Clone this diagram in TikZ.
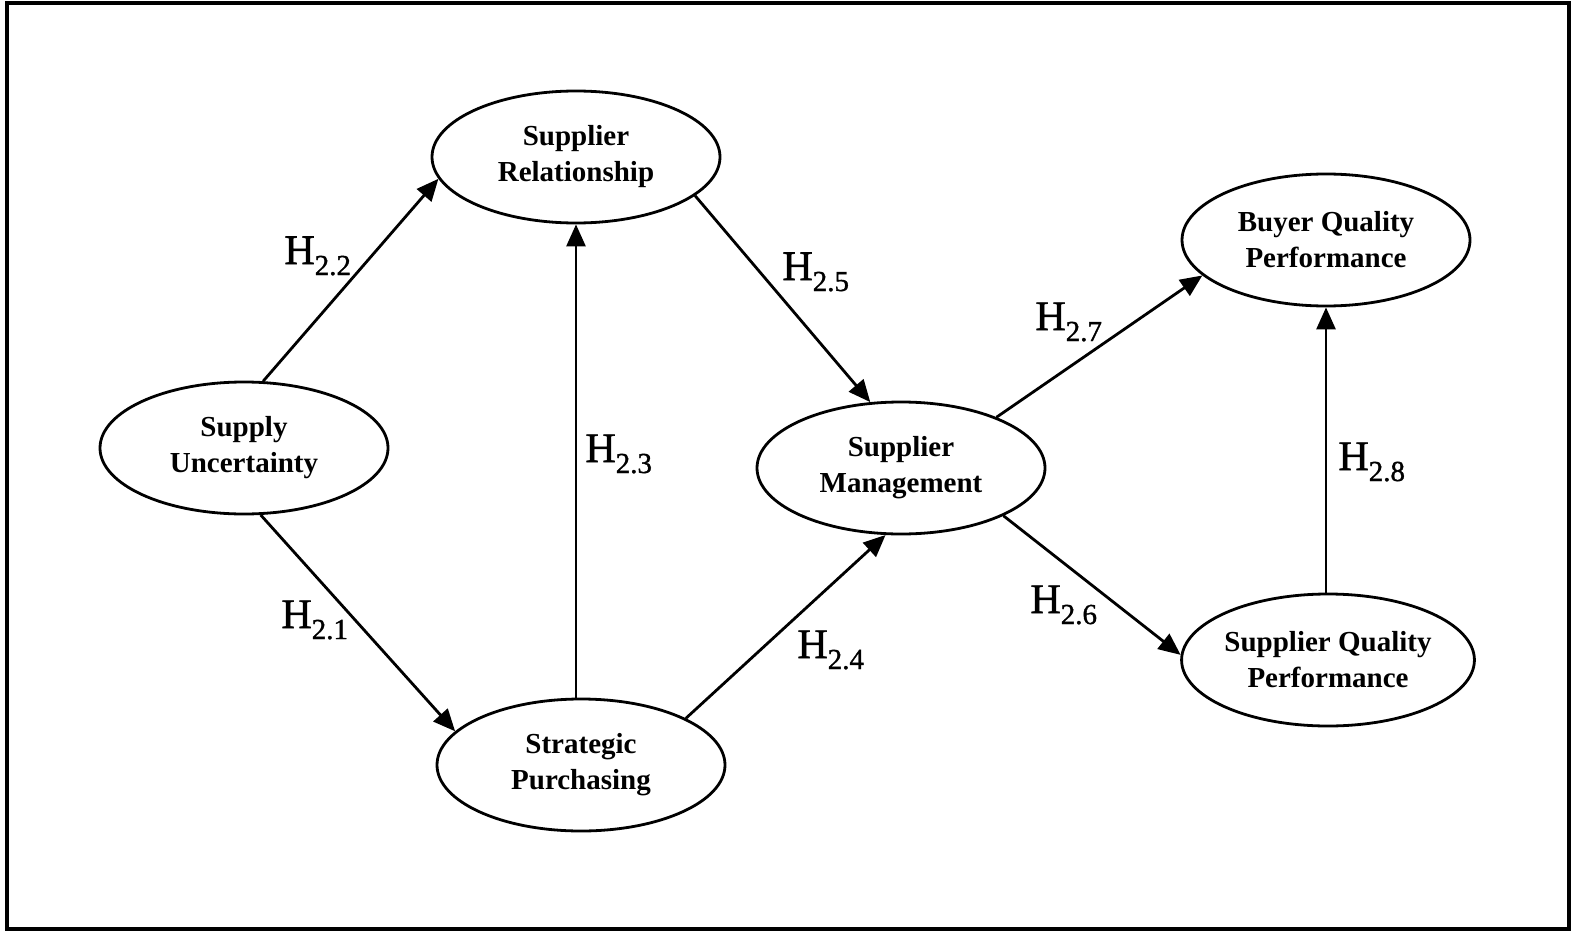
\documentclass[tikz,border=0pt]{standalone}
\usepackage{fontspec}
\setmainfont{Liberation Serif}
\newfontfamily\hfont[FakeBold=1.2]{Liberation Serif}
\usetikzlibrary{shapes.geometric,arrows.meta}
% hypothesis label: H with a lowered index
\newcommand\hyp[1]{H\raisebox{-5.5pt}{\fontsize{14.5}{15}\selectfont #1}}
\begin{document}
\begin{tikzpicture}[x=0.5pt,y=-0.5pt,
  construct/.style={draw,line width=1.4pt,ellipse,minimum width=144pt,minimum height=66pt,
    inner sep=0pt,align=center,font=\bfseries\fontsize{14.5}{18}\selectfont},
  conn/.style={line width=1.4pt,-{Triangle[length=11pt,width=9.5pt]}},
  hlabel/.style={anchor=base west,inner sep=0pt,font=\hfont\fontsize{21}{22}\selectfont}]
\useasboundingbox (0,0) rectangle (1573,931);
\draw[line width=1.6pt] (7,3) rectangle (1569,929);

% constructs
\node[construct] (sr) at (576,157) {Supplier\\Relationship};
\node[construct] (su) at (244,448) {Supply\\Uncertainty};
\node[construct] (sp) at (581,765) {Strategic\\Purchasing};
\node[construct] (sm) at (901,468) {Supplier\\Management};
\node[construct] (bq) at (1326,240) {Buyer Quality\\Performance};
\node[construct] (sq) at (1328,660) {Supplier Quality\\Performance};

% hypothesised paths
\draw[conn] (su.74) -- (sr.189);
\draw[conn] (su.-76) -- (sp.165);
\draw[conn] (sp.north -| sr.south) -- (sr.south);
\draw[conn] (sr.-18) -- (sm.115);
\draw[conn] (sp.24) -- (sm.257);
\draw[conn] (sm.28) -- (bq.196);
\draw[conn] (sm.-25) -- (sq.178);
\draw[conn] (sq.north -| bq.south) -- (bq.south);

% path labels
\node[hlabel] (h22) at (284,264) {\hyp{2.2}};
\node[hlabel] (h21) at (281,628) {\hyp{2.1}};
\node[hlabel] (h23) at (585,462) {\hyp{2.3}};
\node[hlabel] (h25) at (782,280) {\hyp{2.5}};
\node[hlabel] (h24) at (797,658) {\hyp{2.4}};
\node[hlabel] (h27) at (1035,330) {\hyp{2.7}};
\node[hlabel] (h26) at (1030,613) {\hyp{2.6}};
\node[hlabel] (h28) at (1338,470) {\hyp{2.8}};
\end{tikzpicture}
\end{document}
